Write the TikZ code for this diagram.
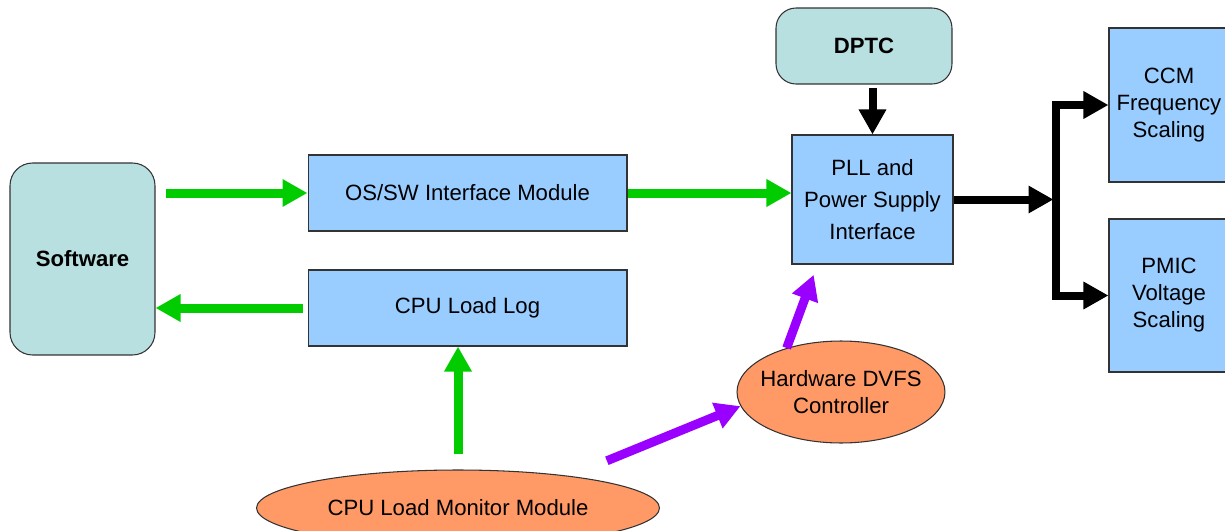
\documentclass[tikz,border=0pt]{standalone}
\usepackage{fontspec}
\setmainfont{Liberation Sans}
\usetikzlibrary{arrows.meta,shapes.geometric}
\definecolor{boxblue}{HTML}{99CCFF}
\definecolor{swteal}{HTML}{B9E0E1}
\definecolor{ovorange}{HTML}{FF9966}
\definecolor{flowgreen}{HTML}{00CC00}
\definecolor{hwpurple}{HTML}{9900FF}
\begin{document}
\begin{tikzpicture}[x=0.02cm,y=-0.02cm,
  txt/.style={font=\fontsize{12.6}{15.4}\selectfont, align=center, draw=black!80, line width=0.6pt},
  blok/.style={txt, rectangle, fill=boxblue},
  rbox/.style={txt, rectangle, rounded corners=0.45cm, fill=swteal, font=\fontsize{12.6}{15.4}\selectfont\bfseries},
  oval/.style={txt, ellipse, fill=ovorange, inner sep=0pt},
  bigtip/.tip={Triangle[width=0.52cm,length=0.5cm]},
  swflow/.style={draw=flowgreen, line width=0.18cm, -bigtip},
  hwflow/.style={draw=hwpurple, line width=0.18cm, -bigtip},
  pwflow/.style={draw=black, line width=0.16cm, -bigtip}]
\useasboundingbox (0,0) rectangle (1225,531);
% boxes
\node[rbox, minimum width=2.9cm, minimum height=3.84cm] (sw) at (82.5,259) {Software};
\node[blok, minimum width=6.38cm, minimum height=1.52cm] (os) at (467.5,193) {OS/SW Interface Module};
\node[blok, minimum width=6.38cm, minimum height=1.52cm] (log) at (467.5,308) {CPU Load Log};
\node[blok, minimum width=3.22cm, minimum height=2.58cm, font=\fontsize{12.6}{18.2}\selectfont] (pll) at (872.5,199.5) {PLL and\\Power Supply\\Interface};
\node[rbox, minimum width=3.52cm, minimum height=1.52cm, rounded corners=0.4cm] (dptc) at (864,46) {DPTC};
\node[blok, minimum width=2.4cm, minimum height=3.08cm] (ccm) at (1169,105) {CCM\\Frequency\\Scaling};
\node[blok, minimum width=2.4cm, minimum height=3.06cm] (pmic) at (1169,295.5) {PMIC\\Voltage\\Scaling};
\node[oval, inner xsep=-0.2cm, minimum width=4.16cm, minimum height=2.04cm] (dvfs) at (841,392) {Hardware DVFS\\Controller};
\node[oval, minimum width=8.06cm, minimum height=1.52cm] (mon) at (458,508) {CPU Load Monitor Module};
% software side
\draw[swflow, shorten <=0.2cm] (sw.east |- os.west) -- (os.west);
\draw[swflow, shorten <=0.1cm] (log.west) -- (sw.east |- log.west);
\draw[swflow] (os.east) -- (pll.west |- os.east);
\draw[swflow, shorten <=0.3cm] (mon.north) -- (log.south -| mon.north);
% hardware side
\draw[hwflow, shorten <=0.8cm] (mon.16) -- (dvfs.188);
\draw[hwflow, shorten >=0.22cm] (dvfs.141) -- ([xshift=0.52cm]pll.south west);
\draw[pwflow, shorten <=0.06cm] (pll.north |- dptc.south) -- (pll.north);
\coordinate (jn) at ([xshift=2cm]pll.east);
\draw[pwflow] (pll.east) -- (jn);
\draw[pwflow, bigtip-bigtip] (ccm.west) -| ([xshift=0.06cm]jn) |- (pmic.west);
\end{tikzpicture}
\end{document}
